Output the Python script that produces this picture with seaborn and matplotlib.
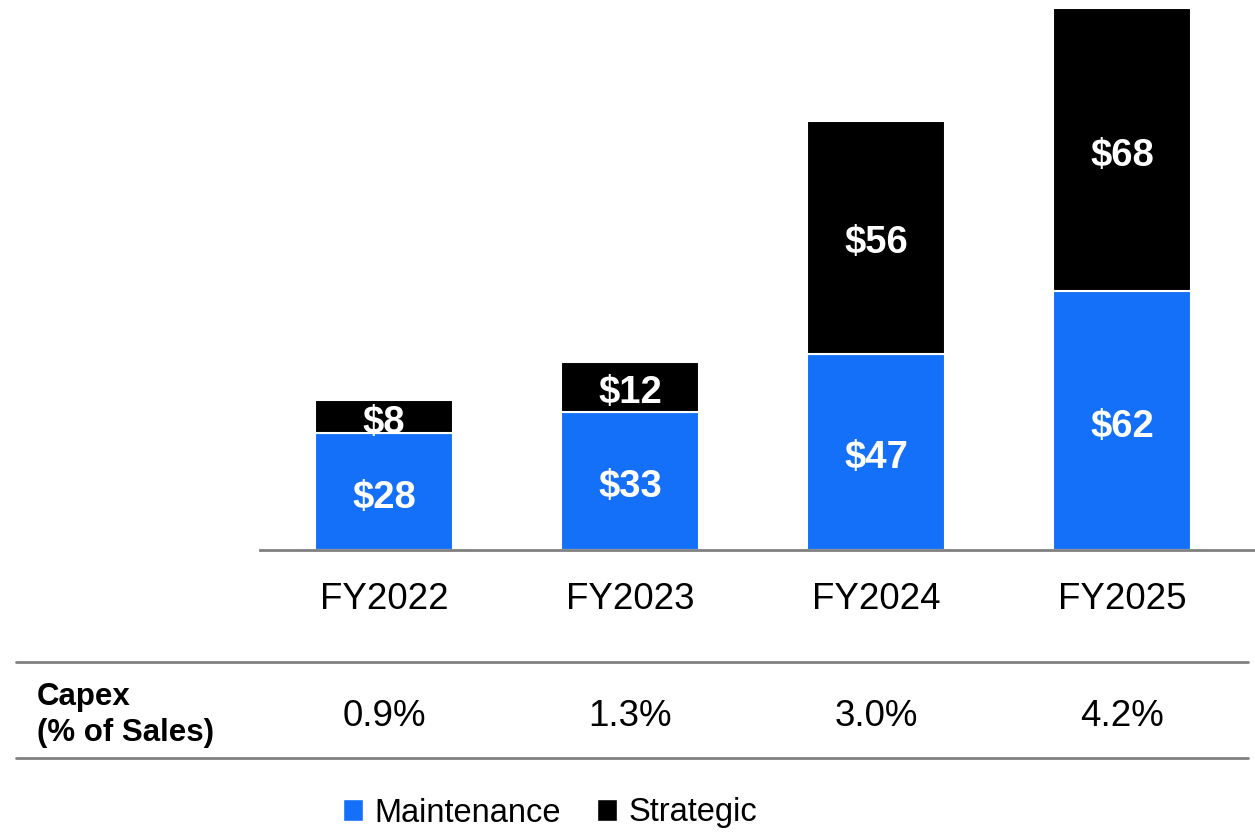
import matplotlib
matplotlib.use("Agg")
import matplotlib.pyplot as plt
import matplotlib.transforms as mtransforms
from matplotlib.patches import Patch
from matplotlib.lines import Line2D
import seaborn as sns
import pandas as pd

sns.set_theme(style="white")
plt.rcParams["font.family"] = ["Liberation Sans", "DejaVu Sans"]
plt.rcParams["text.color"] = "black"

# data
years = ["FY2022", "FY2023", "FY2024", "FY2025"]
maintenance = [28, 33, 47, 62]
strategic = [8, 12, 56, 68]
capex_pct = ["0.9%", "1.3%", "3.0%", "4.2%"]

blue = "#1570F9"
black = "#000000"
grey = "#808080"

df = pd.DataFrame({"year": years, "maintenance": maintenance, "strategic": strategic})

fig = plt.figure(figsize=(12.55, 8.32), dpi=100)
ax = fig.add_axes([260 / 1255, 282 / 832, 995 / 1255, 550 / 832])

# stacked bars
sns.barplot(data=df, x="year", y="maintenance", color=blue, saturation=1,
            width=0.56, edgecolor="white", linewidth=1.5, ax=ax)
sns.barplot(data=df, x="year", y="strategic", color=black, saturation=1,
            width=0.56, edgecolor="white", linewidth=1.5,
            bottom=df["maintenance"].values, ax=ax)

lab_kw = dict(label_type="center", color="white", fontsize=27.5, fontweight="bold")
anns = ax.bar_label(ax.containers[0], labels=[f"${v}" for v in maintenance], **lab_kw)
anns += ax.bar_label(ax.containers[1], labels=[f"${v}" for v in strategic], **lab_kw)
for a in anns:
    a.xyann = (0, -4.3)  # nudge down a little, like the original

ax.set_xlim(-0.504, 3.54)
ax.set_ylim(0, 131.9)
ax.set_xlabel("")
ax.set_ylabel("")
ax.set_yticks([])
for s in ["top", "right", "left"]:
    ax.spines[s].set_visible(False)
ax.spines["bottom"].set_color(grey)
ax.spines["bottom"].set_linewidth(2)
ax.tick_params(axis="x", length=0, pad=23, labelsize=26.5, labelcolor="black")

# table below
fig.add_artist(Line2D([16 / 1255, 1248 / 1255], [1 - 662 / 832] * 2,
                      color=grey, linewidth=2))
fig.add_artist(Line2D([16 / 1255, 1248 / 1255], [1 - 758 / 832] * 2,
                      color=grey, linewidth=2))
fig.text(37 / 1255, 1 - 715 / 832, "Capex\n(% of Sales)", fontsize=22.5,
         fontweight="bold", va="center", ha="left", linespacing=1.25, color="black")
trans = mtransforms.blended_transform_factory(ax.transData, fig.transFigure)
for i, p in enumerate(capex_pct):
    ax.text(i, 1 - 716 / 832, p, transform=trans, ha="center", va="center",
            fontsize=26.5, clip_on=False, color="black")

# legend
handles = [Patch(facecolor=blue, label="Maintenance"),
           Patch(facecolor=black, label="Strategic")]
leg = fig.legend(handles=handles, loc="center", bbox_to_anchor=(550 / 1255, 1 - 813 / 832),
                 ncol=2, frameon=False, fontsize=23.5, handlelength=0.62, handleheight=0.62,
                 handletextpad=0.35, columnspacing=1.1, borderaxespad=0)
for t in leg.get_texts():
    t.set_color("black")

fig.savefig("out.png", dpi=100)
plt.close()
